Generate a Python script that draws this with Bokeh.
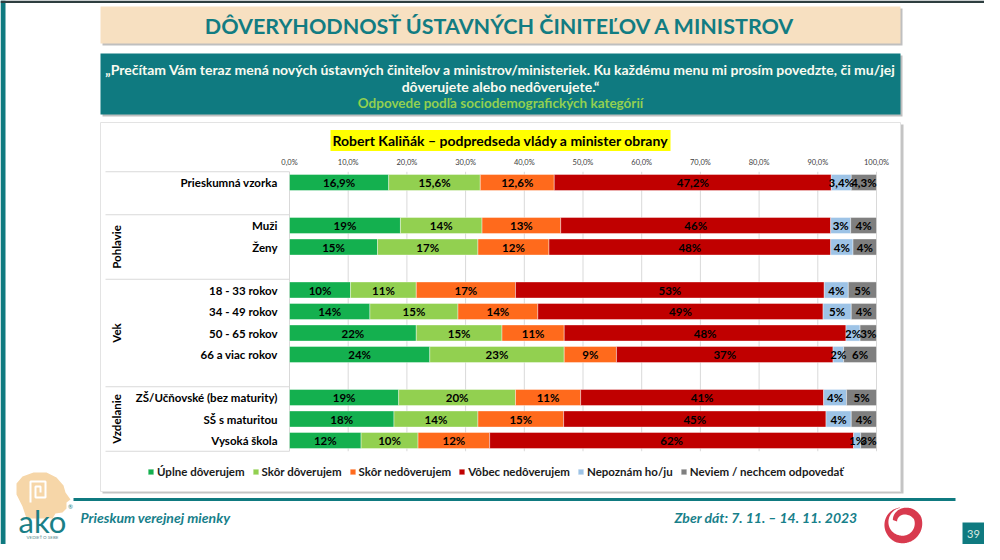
import numpy as np
from bokeh.plotting import figure
from bokeh.models import Range1d, Legend, LegendItem, ColumnDataSource, Label
from bokeh.core.properties import value
from bokeh.embed import file_html
from bokeh.resources import INLINE

# ---------------- data ----------------
title_text = "DÔVERYHODNOSŤ ÚSTAVNÝCH ČINITEĽOV A MINISTROV"
question_lines = [
    "„Prečítam Vám teraz mená nových ústavných činiteľov a ministrov/ministeriek. Ku každému menu mi prosím povedzte, či mu/jej",
    "dôverujete alebo nedôverujete.“",
]
subtitle_text = "Odpovede podľa sociodemografických kategórií"
chart_title = "Robert Kaliňák – podpredseda vlády a minister obrany"
footer_left = "Prieskum verejnej mienky"
footer_right = "Zber dát: 7. 11. – 14. 11. 2023"
page_number = "39"

rows = ["Prieskumná vzorka", "Muži", "Ženy", "18 - 33 rokov", "34 - 49 rokov",
        "50 - 65 rokov", "66 a viac rokov", "ZŠ/Učňovské (bez maturity)",
        "SŠ s maturitou", "Vysoká škola"]
row_groups = ["", "Pohlavie", "Pohlavie", "Vek", "Vek", "Vek", "Vek",
              "Vzdelanie", "Vzdelanie", "Vzdelanie"]

series = ["Úplne dôverujem", "Skôr dôverujem", "Skôr nedôverujem",
          "Vôbec nedôverujem", "Nepoznám ho/ju", "Neviem / nechcem odpovedať"]
uplne_doverujem = [16.9, 18.9, 15.0, 10.4, 13.7, 21.6, 23.9, 18.6, 17.8, 12.2]
skor_doverujem = [15.6, 13.9, 17.1, 11.2, 15.0, 14.6, 22.9, 19.9, 14.3, 9.7]
skor_nedoverujem = [12.6, 13.4, 12.1, 16.9, 13.6, 10.6, 8.9, 11.1, 14.6, 12.2]
vobec_nedoverujem = [47.2, 46.0, 48.0, 52.6, 48.6, 48.0, 36.9, 41.4, 44.7, 62.0]
nepoznam = [3.4, 3.4, 3.8, 4.1, 4.8, 2.4, 1.8, 3.9, 4.3, 1.2]
neviem = [4.3, 4.4, 4.0, 4.8, 4.3, 2.8, 5.6, 5.1, 4.3, 2.7]

pct_ticks = [0, 10, 20, 30, 40, 50, 60, 70, 80, 90, 100]

colors = ["#14B04F", "#92D050", "#FF6A1C", "#C00000", "#9DC3E6", "#7F7F7F"]
TEAL = "#0F7A80"
FONT = "Lato"

# ---------------- slots (blank row between groups) ----------------
slots = []
s, prev = 0, None
for g in row_groups:
    if prev is not None and g != prev:
        s += 1
    slots.append(s)
    s += 1
    prev = g

W, H = 984, 544
# ---------------- figure: frame covers the whole page ----------------
p = figure(width=W, height=H, x_range=Range1d(0, W), y_range=Range1d(H, 0),
           output_backend="svg", toolbar_location=None, min_border=0,
           x_axis_type=None, y_axis_type=None, outline_line_color=None,
           background_fill_color="white", border_fill_color="white")
p.grid.visible = False

PX0, PX100 = 289.0, 876.0
ppp = (PX100 - PX0) / 100.0
p.extra_x_ranges = {"pct": Range1d((0 - PX0) / ppp, (W - PX0) / ppp)}
ROW0, ROWH = 182.0, 21.5
p.extra_y_ranges = {"rows": Range1d((H - ROW0) / ROWH, (0 - ROW0) / ROWH)}

# ---------------- slide decoration ----------------
p.quad(left=[0], right=[5], top=[0], bottom=[H], fill_color=TEAL, line_color=None)
p.quad(left=[0], right=[W], top=[0], bottom=[2.5], fill_color="#2E3E40", line_color=None)

# title banner
p.quad(left=[102], right=[902], top=[8], bottom=[45], fill_color="#BFBFBF", line_color=None)
p.quad(left=[100], right=[900], top=[6], bottom=[43], fill_color="#F7E0C1", line_color=None)
p.text(x=[500], y=[25], text=[title_text], text_font=value(FONT), text_font_style="bold",
       text_font_size="21.5px", text_color="#127C82", text_align="center", text_baseline="middle")

# question box
p.quad(left=[102], right=[902], top=[55], bottom=[116], fill_color="#BFBFBF", line_color=None)
p.quad(left=[100], right=[900], top=[53], bottom=[114], fill_color=TEAL, line_color=None)
p.text(x=[500, 500], y=[69, 86], text=question_lines, text_font=value(FONT),
       text_font_style="bold", text_font_size="14px", text_color="#FAFAF0",
       text_align="center", text_baseline="middle")
p.text(x=[500], y=[102], text=[subtitle_text], text_font=value(FONT), text_font_style="bold",
       text_font_size="13.5px", text_color="#92D050", text_align="center", text_baseline="middle")

# chart box
p.quad(left=[102], right=[903], top=[124], bottom=[493], fill_color="#C4C4C4", line_color=None)
p.quad(left=[100], right=[900], top=[122], bottom=[491], fill_color="white", line_color="#E3E3E3")

# chart title with yellow highlight
p.add_layout(Label(x=500, y=140, text=chart_title, text_font=FONT, text_font_style="bold",
                   text_font_size="14px", text_color="black", text_align="center",
                   text_baseline="middle", background_fill_color="#FFFF00", padding=2))

# ---------------- chart ----------------
lo, hi = -0.5, max(slots) + 0.5
p.segment(x0=pct_ticks, x1=pct_ticks, y0=[lo] * len(pct_ticks), y1=[hi] * len(pct_ticks),
          line_color="#D9D9D9", line_width=1, x_range_name="pct", y_range_name="rows")
p.text(x=pct_ticks, y=[162] * len(pct_ticks),
       text=[f"{t:.1f}".replace(".", ",") + "%" for t in pct_ticks],
       text_font=value(FONT), text_font_size="7.5px", text_color="#404040",
       text_align="center", text_baseline="middle", x_range_name="pct")

# group separators + group labels
group_names = []
group_start = []
for g, sl in zip(row_groups, slots):
    if not group_names or group_names[-1] != g:
        group_names.append(g)
        group_start.append(sl - 0.5)
group_end = group_start[1:] + [hi]
sep_y = group_start + [hi]
p.segment(x0=[105] * len(sep_y), x1=[PX0] * len(sep_y), y0=sep_y, y1=sep_y,
          line_color="#D9D9D9", line_width=1, y_range_name="rows")
gl = [(n, (a + b) / 2) for n, a, b in zip(group_names, group_start, group_end) if n]
p.text(x=[116] * len(gl), y=[c for _, c in gl], text=[n for n, _ in gl],
       text_font=value(FONT), text_font_style="bold", text_font_size="11.5px",
       text_color="black", angle=np.pi / 2, text_align="center", text_baseline="middle",
       y_range_name="rows")

# row labels
p.text(x=[277] * len(rows), y=slots, text=rows, text_font=value(FONT),
       text_font_style="bold", text_font_size="11.5px", text_color="black",
       text_align="right", text_baseline="middle", y_range_name="rows")

# stacked bars
vals = [uplne_doverujem, skor_doverujem, skor_nedoverujem, vobec_nedoverujem, nepoznam, neviem]
keys = [f"s{i}" for i in range(len(series))]
src = ColumnDataSource(dict(slot=slots, **{k: v for k, v in zip(keys, vals)}))
renderers = p.hbar_stack(keys, y="slot", height=0.75, color=colors, source=src,
                         line_color="white", line_width=0.4,
                         x_range_name="pct", y_range_name="rows")

# value labels
lx, ly, lt = [], [], []
cum = [0.0] * len(rows)
for v in vals:
    for j, x in enumerate(v):
        lx.append(cum[j] + x / 2)
        ly.append(slots[j])
        lt.append((f"{x:.1f}".replace(".", ",") if j == 0 else f"{x:.0f}") + "%")
        cum[j] += x
p.text(x=lx, y=ly, text=lt, text_font=value(FONT), text_font_style="bold",
       text_font_size="11.5px", text_color="black", text_align="center",
       text_baseline="middle", x_range_name="pct", y_range_name="rows")

legend = Legend(items=[LegendItem(label=n, renderers=[r]) for n, r in zip(series, renderers)],
                orientation="horizontal", location=(147, 66),
                label_text_font=FONT, label_text_font_style="bold",
                label_text_font_size="11.5px", label_text_color="#1A1A1A",
                glyph_width=7, glyph_height=7, label_height=12, label_standoff=3,
                spacing=7, padding=0, margin=0, border_line_color=None,
                background_fill_alpha=0)
p.add_layout(legend)

# ---------------- footer ----------------
p.segment(x0=[73], x1=[955], y0=[499], y1=[499], line_color=TEAL, line_width=3)
p.text(x=[80], y=[517], text=[footer_left], text_font=value(FONT), text_font_style="bold italic",
       text_font_size="14px", text_color="#17808A", text_align="left", text_baseline="middle")
p.text(x=[857], y=[517], text=[footer_right], text_font=value(FONT), text_font_style="bold italic",
       text_font_size="14px", text_color="#17808A", text_align="right", text_baseline="middle")

# spiral logo
th = np.radians(np.linspace(100, 520, 240))
deg = np.degrees(th)
rc = np.where(deg < 380, 16.0, 16.0 - (deg - 380) / 140 * 8.0)
w = np.clip((deg - 100) / 150, 0.08, 1) * 7.5
w = np.where(deg > 420, 7.5 - (deg - 420) / 100 * 3.0, w)
cx, cy = 902, 523
xo = cx + (rc + w / 2) * np.cos(th); yo = cy - (rc + w / 2) * np.sin(th)
xi = cx + (rc - w / 2) * np.cos(th); yi = cy - (rc - w / 2) * np.sin(th)
p.patch(x=np.concatenate([xo, xi[::-1]]), y=np.concatenate([yo, yi[::-1]]),
        fill_color="#D83A4E", line_color=None)

# page number tab
p.quad(left=[962], right=[W], top=[522], bottom=[H], fill_color=TEAL, line_color=None)
p.text(x=[973], y=[533], text=[page_number], text_font=value(FONT), text_font_size="11px",
       text_color="#D8E8E0", text_align="center", text_baseline="middle")

# ako logo
head_x = [26, 22, 16, 16, 22, 33, 46, 56, 63, 65, 70, 66, 66, 62, 55, 52]
head_y = [518, 506, 494, 483, 476, 472, 472, 477, 485, 492, 499, 502, 508, 512, 513, 518]
p.patch(x=head_x, y=head_y, fill_color="#F6D6A8", line_color=None)
p.line(x=[30, 30, 45, 45, 35, 35, 40, 40], y=[502, 481, 481, 497, 497, 486, 486, 492],
       line_color="white", line_width=2)
p.text(x=[42], y=[520], text=["ako"], text_font=value(FONT), text_font_size="31px",
       text_color="#1B7F86", text_align="center", text_baseline="middle")
p.text(x=[70], y=[506], text=["®"], text_font=value(FONT), text_font_size="6px",
       text_color="#1B7F86", text_align="center", text_baseline="middle")
p.text(x=[42], y=[537], text=["VEDIEŤ O SEBE"], text_font=value(FONT), text_font_size="4.5px",
       text_color="#5A8A8E", text_align="center", text_baseline="middle")

open("out.html", "w").write(file_html(p, INLINE))
